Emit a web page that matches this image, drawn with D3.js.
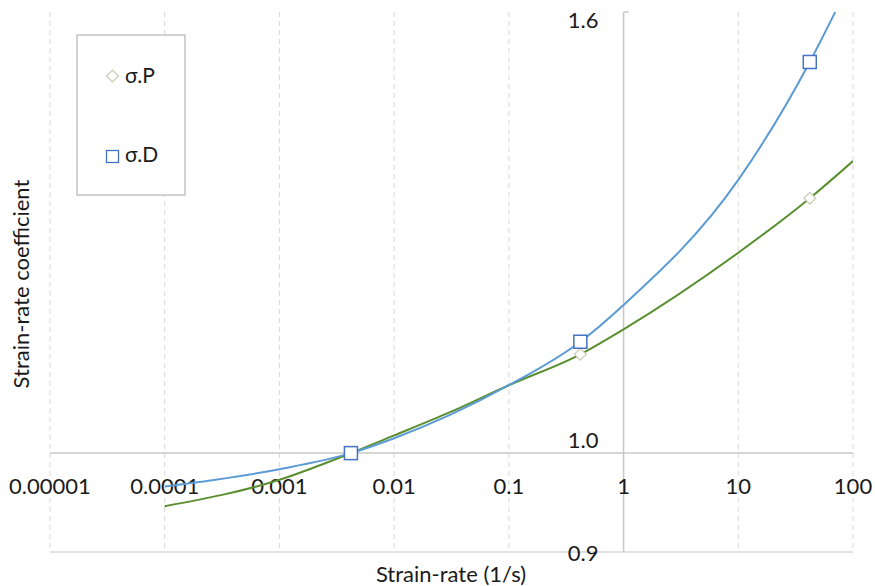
<!DOCTYPE html>
<html lang="en">
<head>
    <meta charset="UTF-8">
    <script src="https://d3js.org/d3.v7.min.js"></script>
    <title>Strain-rate coefficient</title>
    <style>
        body { margin: 0; background: #fff; }
        text { font-family: Lato, "Open Sans", sans-serif; fill: #1a1a1a; }
    </style>
</head>
<body>
    <svg id="grafico" width="875" height="586"></svg>
    <script>
        // Datos
        var rateTicks = [0.00001, 0.0001, 0.001, 0.01, 0.1, 1, 10, 100];
        var rateLabels = ["0.00001", "0.0001", "0.001", "0.01", "0.1", "1", "10", "100"];
        var coefTicks = [0.9, 1.0, 1.6];
        var coefLabels = ["0.9", "1.0", "1.6"];

        // curva σ.P
        var rateP = [0.0001, 0.001, 0.0042, 0.01, 0.03, 0.1, 0.42, 1, 10, 42, 100];
        var coefP = [0.945, 0.972, 1.0, 1.019, 1.044, 1.075, 1.111, 1.141, 1.238, 1.312, 1.365];
        // curva σ.D
        var rateD = [0.0001, 0.001, 0.0042, 0.01, 0.03, 0.1, 0.42, 1, 10, 42, 70];
        var coefD = [0.965, 0.983, 1.0, 1.016, 1.041, 1.075, 1.126, 1.171, 1.338, 1.517, 1.6];

        // marcadores
        var markRate = [0.0042, 0.42, 42];
        var markP = [1.0, 1.111, 1.312];
        var markD = [1.0, 1.126, 1.517];

        var svg = d3.select("#grafico");

        // Escalas
        var x = d3.scaleLog().domain([0.00001, 100]).range([50, 853]);
        var y = d3.scaleLog().domain([0.9, 1.6]).range([552, 12]);

        // Rejilla vertical
        svg.selectAll(".grid-x")
            .data(rateTicks)
            .enter().append("line")
            .attr("class", "grid-x")
            .attr("x1", function (d) { return x(d); })
            .attr("x2", function (d) { return x(d); })
            .attr("y1", y(1.6))
            .attr("y2", y(0.9))
            .attr("stroke", "#d9d9d9")
            .attr("stroke-width", 1)
            .attr("stroke-dasharray", "5,4")
            .attr("display", function (d) { return d === 1 ? "none" : null; });

        // línea inferior (0.9)
        svg.append("line")
            .attr("x1", x(0.00001)).attr("x2", x(100))
            .attr("y1", y(0.9)).attr("y2", y(0.9))
            .attr("stroke", "#d9d9d9").attr("stroke-width", 1.5);

        // Eje X en 1.0
        svg.append("line")
            .attr("x1", x(0.00001)).attr("x2", x(100))
            .attr("y1", y(1.0)).attr("y2", y(1.0))
            .attr("stroke", "#c8c8c8").attr("stroke-width", 1.5);

        // Eje Y en 1
        svg.append("line")
            .attr("x1", x(1)).attr("x2", x(1))
            .attr("y1", y(1.6)).attr("y2", y(0.9))
            .attr("stroke", "#c8c8c8").attr("stroke-width", 1.5);
        svg.append("line")
            .attr("x1", x(1)).attr("x2", x(1) + 5)
            .attr("y1", y(1.6)).attr("y2", y(1.6))
            .attr("stroke", "#c8c8c8").attr("stroke-width", 1.5);

        // Etiquetas X
        svg.selectAll(".lab-x")
            .data(rateTicks)
            .enter().append("text")
            .attr("class", "lab-x")
            .attr("x", function (d) { return x(d); })
            .attr("y", y(1.0) + 41)
            .attr("text-anchor", "middle")
            .attr("font-size", 22)
            .text(function (d, i) { return rateLabels[i]; });

        // Etiquetas Y
        var dy = { "0.9": 9, "1": -5, "1.6": 16 };
        svg.selectAll(".lab-y")
            .data(coefTicks)
            .enter().append("text")
            .attr("class", "lab-y")
            .attr("x", x(1) - 25)
            .attr("y", function (d) { return y(d) + dy[String(d)]; })
            .attr("text-anchor", "end")
            .attr("font-size", 22)
            .text(function (d, i) { return coefLabels[i]; });

        // Títulos
        svg.append("text")
            .attr("x", 451).attr("y", 582)
            .attr("text-anchor", "middle")
            .attr("font-size", 22)
            .text("Strain-rate (1/s)");
        svg.append("text")
            .attr("transform", "translate(29,284) rotate(-90)")
            .attr("text-anchor", "middle")
            .attr("font-size", 22)
            .text("Strain-rate coefficient");

        // Curvas
        svg.append("clipPath").attr("id", "clip")
            .append("rect").attr("x", 50).attr("y", 12).attr("width", 803).attr("height", 540);

        var linea = d3.line()
            .x(function (d) { return x(d[0]); })
            .y(function (d) { return y(d[1]); })
            .curve(d3.curveMonotoneX);

        svg.append("path")
            .datum(d3.zip(rateP, coefP))
            .attr("d", linea)
            .attr("fill", "none")
            .attr("stroke", "#5a8f30")
            .attr("stroke-width", 2)
            .attr("clip-path", "url(#clip)");

        svg.append("path")
            .datum(d3.zip(rateD, coefD))
            .attr("d", linea)
            .attr("fill", "none")
            .attr("stroke", "#5b9bd5")
            .attr("stroke-width", 2)
            .attr("clip-path", "url(#clip)");

        // Marcadores σ.P (rombos)
        var rombo = d3.symbol().type(d3.symbolDiamond2).size(90);
        svg.selectAll(".mark-p")
            .data(d3.zip(markRate, markP))
            .enter().append("path")
            .attr("class", "mark-p")
            .attr("d", rombo)
            .attr("transform", function (d) { return "translate(" + x(d[0]) + "," + y(d[1]) + ")"; })
            .attr("fill", "#fff")
            .attr("stroke", "#c9c9b4")
            .attr("stroke-width", 1.2);

        // Marcadores σ.D (cuadrados)
        svg.selectAll(".mark-d")
            .data(d3.zip(markRate, markD))
            .enter().append("rect")
            .attr("class", "mark-d")
            .attr("x", function (d) { return x(d[0]) - 6.5; })
            .attr("y", function (d) { return y(d[1]) - 6.5; })
            .attr("width", 13).attr("height", 13)
            .attr("fill", "#fff")
            .attr("stroke", "#4472c4")
            .attr("stroke-width", 1.5);

        // Leyenda
        var leyenda = svg.append("g").attr("transform", "translate(77,35)");
        leyenda.append("rect")
            .attr("width", 108).attr("height", 160)
            .attr("fill", "#fff")
            .attr("stroke", "#a6a6a6").attr("stroke-width", 1);
        leyenda.append("path")
            .attr("d", rombo)
            .attr("transform", "translate(35.5,41)")
            .attr("fill", "#fff").attr("stroke", "#c9c9b4").attr("stroke-width", 1.2);
        leyenda.append("text")
            .attr("x", 48).attr("y", 48)
            .attr("font-size", 21)
            .text("σ.P");
        leyenda.append("rect")
            .attr("x", 29.5).attr("y", 115.5).attr("width", 12).attr("height", 12)
            .attr("fill", "#fff").attr("stroke", "#4472c4").attr("stroke-width", 1.3);
        leyenda.append("text")
            .attr("x", 48).attr("y", 127)
            .attr("font-size", 21)
            .text("σ.D");
    </script>
</body>
</html>
